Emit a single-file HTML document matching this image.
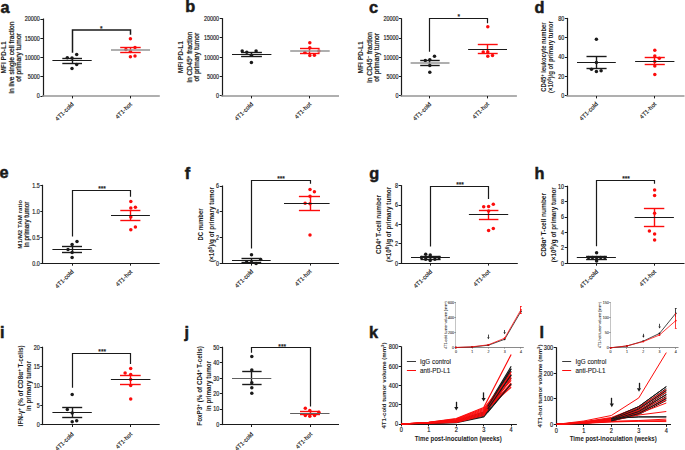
<!DOCTYPE html>
<html><head><meta charset="utf-8"><title>Figure</title>
<style>html,body{margin:0;padding:0;background:#fff;}svg{display:block;}text{font-family:"Liberation Sans", sans-serif;}</style>
</head><body>
<svg width="685" height="450" viewBox="0 0 685 450" font-family='"Liberation Sans", sans-serif'>
<rect width="685" height="450" fill="#fff"/>
<text x="0.50" y="13.20" font-size="16.3" font-weight="bold" text-anchor="start" fill="#1a1a1a" stroke="#1a1a1a" stroke-width="0.500">a</text>
<line x1="43.50" y1="18.50" x2="43.50" y2="96.50" stroke="#1a1a1a" stroke-width="1.2" stroke-linecap="butt"/>
<line x1="40.40" y1="19.50" x2="43.00" y2="19.50" stroke="#1a1a1a" stroke-width="1.0" stroke-linecap="butt"/>
<text x="0.00" y="0.00" font-size="6.6" text-anchor="end" fill="#1a1a1a" stroke="#1a1a1a" stroke-width="0.170" transform="translate(39.80 21.30) scale(0.818 1)">20000</text>
<line x1="40.40" y1="38.50" x2="43.00" y2="38.50" stroke="#1a1a1a" stroke-width="1.0" stroke-linecap="butt"/>
<text x="0.00" y="0.00" font-size="6.6" text-anchor="end" fill="#1a1a1a" stroke="#1a1a1a" stroke-width="0.170" transform="translate(39.80 40.55) scale(0.818 1)">15000</text>
<line x1="40.40" y1="57.50" x2="43.00" y2="57.50" stroke="#1a1a1a" stroke-width="1.0" stroke-linecap="butt"/>
<text x="0.00" y="0.00" font-size="6.6" text-anchor="end" fill="#1a1a1a" stroke="#1a1a1a" stroke-width="0.170" transform="translate(39.80 59.80) scale(0.818 1)">10000</text>
<line x1="40.40" y1="76.50" x2="43.00" y2="76.50" stroke="#1a1a1a" stroke-width="1.0" stroke-linecap="butt"/>
<text x="0.00" y="0.00" font-size="6.6" text-anchor="end" fill="#1a1a1a" stroke="#1a1a1a" stroke-width="0.170" transform="translate(39.80 79.05) scale(0.818 1)">5000</text>
<line x1="40.40" y1="96.50" x2="43.00" y2="96.50" stroke="#1a1a1a" stroke-width="1.0" stroke-linecap="butt"/>
<text x="0.00" y="0.00" font-size="6.6" text-anchor="end" fill="#1a1a1a" stroke="#1a1a1a" stroke-width="0.170" transform="translate(39.80 98.30) scale(0.818 1)">0</text>
<line x1="42.00" y1="96.00" x2="159.80" y2="96.00" stroke="#959595" stroke-width="1.5" stroke-linecap="butt"/>
<line x1="72.50" y1="96.00" x2="72.50" y2="98.40" stroke="#1a1a1a" stroke-width="1.0" stroke-linecap="butt"/>
<line x1="130.50" y1="96.00" x2="130.50" y2="98.40" stroke="#1a1a1a" stroke-width="1.0" stroke-linecap="butt"/>
<text x="74.10" y="104.70" font-size="6.0" text-anchor="end" fill="#1a1a1a" stroke="#1a1a1a" stroke-width="0.140" transform="rotate(-45 74.10 104.70)">4T1-cold</text>
<text x="132.40" y="104.70" font-size="6.0" text-anchor="end" fill="#1a1a1a" stroke="#1a1a1a" stroke-width="0.140" transform="rotate(-45 132.40 104.70)">4T1-hot</text>
<text x="5.70" y="57.50" font-size="6.6" font-weight="bold" text-anchor="middle" fill="#1a1a1a" transform="rotate(-90 5.70 57.50)">MFI PD-L1</text>
<text x="13.50" y="57.50" font-size="6.7" text-anchor="middle" fill="#1a1a1a" stroke="#1a1a1a" stroke-width="0.235" transform="rotate(-90 13.50 57.50)">in live single cell fraction</text>
<text x="20.80" y="57.50" font-size="6.7" text-anchor="middle" fill="#1a1a1a" stroke="#1a1a1a" stroke-width="0.235" transform="rotate(-90 20.80 57.50)">of primary tumor</text>
<path d="M72.50,52.70 L72.50,30.00 L130.50,30.00 L130.50,34.70" stroke="#1a1a1a" stroke-width="1.5" fill="none" stroke-linejoin="miter"/>
<text x="101.40" y="30.70" font-size="6.6" text-anchor="middle" fill="#1a1a1a" stroke="#1a1a1a" stroke-width="0.231">*</text>
<circle cx="67.30" cy="57.70" r="1.75" fill="#1a1a1a"/>
<circle cx="76.70" cy="54.40" r="1.75" fill="#1a1a1a"/>
<circle cx="72.00" cy="58.00" r="1.75" fill="#1a1a1a"/>
<circle cx="76.70" cy="64.40" r="1.75" fill="#1a1a1a"/>
<circle cx="72.00" cy="68.40" r="1.75" fill="#1a1a1a"/>
<line x1="62.30" y1="58.50" x2="82.00" y2="58.50" stroke="#1a1a1a" stroke-width="1.4" stroke-linecap="butt"/>
<line x1="62.30" y1="63.50" x2="82.00" y2="63.50" stroke="#1a1a1a" stroke-width="1.4" stroke-linecap="butt"/>
<line x1="72.50" y1="58.00" x2="72.50" y2="63.30" stroke="#1a1a1a" stroke-width="1.4" stroke-linecap="butt"/>
<line x1="52.40" y1="60.50" x2="91.70" y2="60.50" stroke="#1a1a1a" stroke-width="1.1" stroke-linecap="butt"/>
<circle cx="130.40" cy="38.70" r="1.75" fill="#fc0c0c"/>
<circle cx="125.90" cy="49.40" r="1.75" fill="#fc0c0c"/>
<circle cx="135.00" cy="47.60" r="1.75" fill="#fc0c0c"/>
<circle cx="130.40" cy="51.60" r="1.75" fill="#fc0c0c"/>
<circle cx="130.40" cy="56.80" r="1.75" fill="#fc0c0c"/>
<circle cx="135.00" cy="56.00" r="1.75" fill="#fc0c0c"/>
<line x1="120.20" y1="47.50" x2="140.70" y2="47.50" stroke="#fc0c0c" stroke-width="1.4" stroke-linecap="butt"/>
<line x1="120.20" y1="52.50" x2="140.70" y2="52.50" stroke="#fc0c0c" stroke-width="1.4" stroke-linecap="butt"/>
<line x1="130.50" y1="47.40" x2="130.50" y2="52.90" stroke="#fc0c0c" stroke-width="1.4" stroke-linecap="butt"/>
<line x1="111.00" y1="50.00" x2="150.00" y2="50.00" stroke="#959595" stroke-width="1.5" stroke-linecap="butt"/>
<text x="185.20" y="12.20" font-size="16.3" font-weight="bold" text-anchor="start" fill="#1a1a1a" stroke="#1a1a1a" stroke-width="0.500">b</text>
<line x1="222.50" y1="18.10" x2="222.50" y2="96.40" stroke="#1a1a1a" stroke-width="1.2" stroke-linecap="butt"/>
<line x1="219.70" y1="18.50" x2="222.30" y2="18.50" stroke="#1a1a1a" stroke-width="1.0" stroke-linecap="butt"/>
<text x="0.00" y="0.00" font-size="6.6" text-anchor="end" fill="#1a1a1a" stroke="#1a1a1a" stroke-width="0.170" transform="translate(219.10 20.90) scale(0.818 1)">20000</text>
<line x1="219.70" y1="37.50" x2="222.30" y2="37.50" stroke="#1a1a1a" stroke-width="1.0" stroke-linecap="butt"/>
<text x="0.00" y="0.00" font-size="6.6" text-anchor="end" fill="#1a1a1a" stroke="#1a1a1a" stroke-width="0.170" transform="translate(219.10 40.20) scale(0.818 1)">15000</text>
<line x1="219.70" y1="57.50" x2="222.30" y2="57.50" stroke="#1a1a1a" stroke-width="1.0" stroke-linecap="butt"/>
<text x="0.00" y="0.00" font-size="6.6" text-anchor="end" fill="#1a1a1a" stroke="#1a1a1a" stroke-width="0.170" transform="translate(219.10 59.50) scale(0.818 1)">10000</text>
<line x1="219.70" y1="76.50" x2="222.30" y2="76.50" stroke="#1a1a1a" stroke-width="1.0" stroke-linecap="butt"/>
<text x="0.00" y="0.00" font-size="6.6" text-anchor="end" fill="#1a1a1a" stroke="#1a1a1a" stroke-width="0.170" transform="translate(219.10 78.80) scale(0.818 1)">5000</text>
<line x1="219.70" y1="95.50" x2="222.30" y2="95.50" stroke="#1a1a1a" stroke-width="1.0" stroke-linecap="butt"/>
<text x="0.00" y="0.00" font-size="6.6" text-anchor="end" fill="#1a1a1a" stroke="#1a1a1a" stroke-width="0.170" transform="translate(219.10 98.20) scale(0.818 1)">0</text>
<line x1="221.30" y1="96.00" x2="339.00" y2="96.00" stroke="#959595" stroke-width="1.5" stroke-linecap="butt"/>
<line x1="251.50" y1="96.00" x2="251.50" y2="98.40" stroke="#1a1a1a" stroke-width="1.0" stroke-linecap="butt"/>
<line x1="309.50" y1="96.00" x2="309.50" y2="98.40" stroke="#1a1a1a" stroke-width="1.0" stroke-linecap="butt"/>
<text x="253.50" y="104.60" font-size="6.0" text-anchor="end" fill="#1a1a1a" stroke="#1a1a1a" stroke-width="0.140" transform="rotate(-45 253.50 104.60)">4T1-cold</text>
<text x="311.70" y="104.60" font-size="6.0" text-anchor="end" fill="#1a1a1a" stroke="#1a1a1a" stroke-width="0.140" transform="rotate(-45 311.70 104.60)">4T1-hot</text>
<text x="183.40" y="57.20" font-size="6.6" font-weight="bold" text-anchor="middle" fill="#1a1a1a" transform="rotate(-90 183.40 57.20)">MFI PD-L1</text>
<text x="192.00" y="57.20" font-size="6.7" text-anchor="middle" fill="#1a1a1a" stroke="#1a1a1a" stroke-width="0.235" transform="rotate(-90 192.00 57.20)">in CD45<tspan baseline-shift="super" font-size="70%">+</tspan> fraction</text>
<text x="199.40" y="57.20" font-size="6.7" text-anchor="middle" fill="#1a1a1a" stroke="#1a1a1a" stroke-width="0.235" transform="rotate(-90 199.40 57.20)">of primary tumor</text>
<circle cx="242.20" cy="50.90" r="1.75" fill="#1a1a1a"/>
<circle cx="246.80" cy="52.20" r="1.75" fill="#1a1a1a"/>
<circle cx="251.40" cy="55.30" r="1.75" fill="#1a1a1a"/>
<circle cx="256.10" cy="50.90" r="1.75" fill="#1a1a1a"/>
<circle cx="251.40" cy="62.50" r="1.75" fill="#1a1a1a"/>
<line x1="241.10" y1="52.50" x2="261.90" y2="52.50" stroke="#1a1a1a" stroke-width="1.4" stroke-linecap="butt"/>
<line x1="241.10" y1="56.50" x2="261.90" y2="56.50" stroke="#1a1a1a" stroke-width="1.4" stroke-linecap="butt"/>
<line x1="251.50" y1="52.00" x2="251.50" y2="56.80" stroke="#1a1a1a" stroke-width="1.4" stroke-linecap="butt"/>
<line x1="232.00" y1="54.50" x2="271.40" y2="54.50" stroke="#1a1a1a" stroke-width="1.1" stroke-linecap="butt"/>
<circle cx="309.80" cy="42.70" r="1.75" fill="#fc0c0c"/>
<circle cx="309.80" cy="47.80" r="1.75" fill="#fc0c0c"/>
<circle cx="304.90" cy="52.50" r="1.75" fill="#fc0c0c"/>
<circle cx="318.90" cy="51.10" r="1.75" fill="#fc0c0c"/>
<circle cx="309.80" cy="55.40" r="1.75" fill="#fc0c0c"/>
<circle cx="314.40" cy="55.30" r="1.75" fill="#fc0c0c"/>
<line x1="300.00" y1="48.50" x2="319.60" y2="48.50" stroke="#fc0c0c" stroke-width="1.4" stroke-linecap="butt"/>
<line x1="300.00" y1="53.50" x2="319.60" y2="53.50" stroke="#fc0c0c" stroke-width="1.4" stroke-linecap="butt"/>
<line x1="309.50" y1="48.70" x2="309.50" y2="53.10" stroke="#fc0c0c" stroke-width="1.4" stroke-linecap="butt"/>
<line x1="290.20" y1="51.00" x2="329.70" y2="51.00" stroke="#959595" stroke-width="1.5" stroke-linecap="butt"/>
<text x="369.00" y="12.70" font-size="16.3" font-weight="bold" text-anchor="start" fill="#1a1a1a" stroke="#1a1a1a" stroke-width="0.500">c</text>
<line x1="401.50" y1="18.40" x2="401.50" y2="96.40" stroke="#1a1a1a" stroke-width="1.2" stroke-linecap="butt"/>
<line x1="399.00" y1="18.50" x2="401.60" y2="18.50" stroke="#1a1a1a" stroke-width="1.0" stroke-linecap="butt"/>
<text x="0.00" y="0.00" font-size="6.6" text-anchor="end" fill="#1a1a1a" stroke="#1a1a1a" stroke-width="0.170" transform="translate(398.40 21.20) scale(0.818 1)">20000</text>
<line x1="399.00" y1="38.50" x2="401.60" y2="38.50" stroke="#1a1a1a" stroke-width="1.0" stroke-linecap="butt"/>
<text x="0.00" y="0.00" font-size="6.6" text-anchor="end" fill="#1a1a1a" stroke="#1a1a1a" stroke-width="0.170" transform="translate(398.40 40.40) scale(0.818 1)">15000</text>
<line x1="399.00" y1="57.50" x2="401.60" y2="57.50" stroke="#1a1a1a" stroke-width="1.0" stroke-linecap="butt"/>
<text x="0.00" y="0.00" font-size="6.6" text-anchor="end" fill="#1a1a1a" stroke="#1a1a1a" stroke-width="0.170" transform="translate(398.40 59.70) scale(0.818 1)">10000</text>
<line x1="399.00" y1="76.50" x2="401.60" y2="76.50" stroke="#1a1a1a" stroke-width="1.0" stroke-linecap="butt"/>
<text x="0.00" y="0.00" font-size="6.6" text-anchor="end" fill="#1a1a1a" stroke="#1a1a1a" stroke-width="0.170" transform="translate(398.40 78.90) scale(0.818 1)">5000</text>
<line x1="399.00" y1="95.50" x2="401.60" y2="95.50" stroke="#1a1a1a" stroke-width="1.0" stroke-linecap="butt"/>
<text x="0.00" y="0.00" font-size="6.6" text-anchor="end" fill="#1a1a1a" stroke="#1a1a1a" stroke-width="0.170" transform="translate(398.40 98.20) scale(0.818 1)">0</text>
<line x1="400.60" y1="96.00" x2="516.90" y2="96.00" stroke="#959595" stroke-width="1.5" stroke-linecap="butt"/>
<line x1="429.50" y1="96.00" x2="429.50" y2="98.40" stroke="#1a1a1a" stroke-width="1.0" stroke-linecap="butt"/>
<line x1="487.50" y1="96.00" x2="487.50" y2="98.40" stroke="#1a1a1a" stroke-width="1.0" stroke-linecap="butt"/>
<text x="431.70" y="104.60" font-size="6.0" text-anchor="end" fill="#1a1a1a" stroke="#1a1a1a" stroke-width="0.140" transform="rotate(-45 431.70 104.60)">4T1-cold</text>
<text x="489.50" y="104.60" font-size="6.0" text-anchor="end" fill="#1a1a1a" stroke="#1a1a1a" stroke-width="0.140" transform="rotate(-45 489.50 104.60)">4T1-hot</text>
<text x="363.20" y="57.40" font-size="6.6" font-weight="bold" text-anchor="middle" fill="#1a1a1a" transform="rotate(-90 363.20 57.40)">MFI PD-L1</text>
<text x="371.60" y="57.40" font-size="6.7" text-anchor="middle" fill="#1a1a1a" stroke="#1a1a1a" stroke-width="0.235" transform="rotate(-90 371.60 57.40)">in CD45<tspan baseline-shift="super" font-size="70%">−</tspan> fraction</text>
<text x="379.00" y="57.40" font-size="6.7" text-anchor="middle" fill="#1a1a1a" stroke="#1a1a1a" stroke-width="0.235" transform="rotate(-90 379.00 57.40)">of primary tumor</text>
<path d="M429.50,51.70 L429.50,18.50 L487.50,18.50 L487.50,23.20" stroke="#1a1a1a" stroke-width="1.2" fill="none" stroke-linejoin="miter"/>
<text x="458.80" y="19.30" font-size="6.6" text-anchor="middle" fill="#1a1a1a" stroke="#1a1a1a" stroke-width="0.231">*</text>
<circle cx="434.50" cy="56.30" r="1.75" fill="#1a1a1a"/>
<circle cx="425.30" cy="60.50" r="1.75" fill="#1a1a1a"/>
<circle cx="429.80" cy="59.80" r="1.75" fill="#1a1a1a"/>
<circle cx="429.80" cy="65.50" r="1.75" fill="#1a1a1a"/>
<circle cx="429.80" cy="72.20" r="1.75" fill="#1a1a1a"/>
<line x1="420.20" y1="60.50" x2="439.70" y2="60.50" stroke="#1a1a1a" stroke-width="1.4" stroke-linecap="butt"/>
<line x1="420.20" y1="65.50" x2="439.70" y2="65.50" stroke="#1a1a1a" stroke-width="1.4" stroke-linecap="butt"/>
<line x1="429.50" y1="60.10" x2="429.50" y2="65.50" stroke="#1a1a1a" stroke-width="1.4" stroke-linecap="butt"/>
<line x1="410.60" y1="62.90" x2="449.50" y2="62.90" stroke="#959595" stroke-width="1.5" stroke-linecap="butt"/>
<circle cx="487.80" cy="26.80" r="1.75" fill="#fc0c0c"/>
<circle cx="483.20" cy="52.00" r="1.75" fill="#fc0c0c"/>
<circle cx="487.80" cy="52.00" r="1.75" fill="#fc0c0c"/>
<circle cx="487.80" cy="56.30" r="1.75" fill="#fc0c0c"/>
<circle cx="492.50" cy="55.60" r="1.75" fill="#fc0c0c"/>
<line x1="477.80" y1="44.50" x2="497.70" y2="44.50" stroke="#fc0c0c" stroke-width="1.4" stroke-linecap="butt"/>
<line x1="477.80" y1="53.50" x2="497.70" y2="53.50" stroke="#fc0c0c" stroke-width="1.4" stroke-linecap="butt"/>
<line x1="487.50" y1="44.50" x2="487.50" y2="53.50" stroke="#fc0c0c" stroke-width="1.4" stroke-linecap="butt"/>
<line x1="468.10" y1="49.50" x2="507.00" y2="49.50" stroke="#1a1a1a" stroke-width="1.1" stroke-linecap="butt"/>
<text x="534.40" y="12.70" font-size="16.3" font-weight="bold" text-anchor="start" fill="#1a1a1a" stroke="#1a1a1a" stroke-width="0.500">d</text>
<line x1="567.50" y1="17.90" x2="567.50" y2="96.30" stroke="#1a1a1a" stroke-width="1.2" stroke-linecap="butt"/>
<line x1="564.80" y1="18.50" x2="567.40" y2="18.50" stroke="#1a1a1a" stroke-width="1.0" stroke-linecap="butt"/>
<text x="0.00" y="0.00" font-size="6.6" text-anchor="end" fill="#1a1a1a" stroke="#1a1a1a" stroke-width="0.170" transform="translate(564.20 20.70) scale(0.818 1)">80</text>
<line x1="564.80" y1="37.50" x2="567.40" y2="37.50" stroke="#1a1a1a" stroke-width="1.0" stroke-linecap="butt"/>
<text x="0.00" y="0.00" font-size="6.6" text-anchor="end" fill="#1a1a1a" stroke="#1a1a1a" stroke-width="0.170" transform="translate(564.20 40.05) scale(0.818 1)">60</text>
<line x1="564.80" y1="57.50" x2="567.40" y2="57.50" stroke="#1a1a1a" stroke-width="1.0" stroke-linecap="butt"/>
<text x="0.00" y="0.00" font-size="6.6" text-anchor="end" fill="#1a1a1a" stroke="#1a1a1a" stroke-width="0.170" transform="translate(564.20 59.40) scale(0.818 1)">40</text>
<line x1="564.80" y1="76.50" x2="567.40" y2="76.50" stroke="#1a1a1a" stroke-width="1.0" stroke-linecap="butt"/>
<text x="0.00" y="0.00" font-size="6.6" text-anchor="end" fill="#1a1a1a" stroke="#1a1a1a" stroke-width="0.170" transform="translate(564.20 78.75) scale(0.818 1)">20</text>
<line x1="564.80" y1="95.50" x2="567.40" y2="95.50" stroke="#1a1a1a" stroke-width="1.0" stroke-linecap="butt"/>
<text x="0.00" y="0.00" font-size="6.6" text-anchor="end" fill="#1a1a1a" stroke="#1a1a1a" stroke-width="0.170" transform="translate(564.20 98.10) scale(0.818 1)">0</text>
<line x1="566.40" y1="96.00" x2="684.50" y2="96.00" stroke="#959595" stroke-width="1.5" stroke-linecap="butt"/>
<line x1="596.50" y1="96.00" x2="596.50" y2="98.40" stroke="#1a1a1a" stroke-width="1.0" stroke-linecap="butt"/>
<line x1="654.50" y1="96.00" x2="654.50" y2="98.40" stroke="#1a1a1a" stroke-width="1.0" stroke-linecap="butt"/>
<text x="598.30" y="104.50" font-size="6.0" text-anchor="end" fill="#1a1a1a" stroke="#1a1a1a" stroke-width="0.140" transform="rotate(-45 598.30 104.50)">4T1-cold</text>
<text x="656.70" y="104.50" font-size="6.0" text-anchor="end" fill="#1a1a1a" stroke="#1a1a1a" stroke-width="0.140" transform="rotate(-45 656.70 104.50)">4T1-hot</text>
<text x="545.60" y="57.10" font-size="6.3" font-weight="bold" text-anchor="middle" fill="#1a1a1a" transform="rotate(-90 545.60 57.10)" textLength="69.5" lengthAdjust="spacingAndGlyphs">CD45<tspan baseline-shift="super" font-size="70%">+</tspan> leukocyte number</text>
<text x="553.20" y="57.10" font-size="6.3" font-weight="bold" text-anchor="middle" fill="#1a1a1a" transform="rotate(-90 553.20 57.10)" textLength="72" lengthAdjust="spacingAndGlyphs">(×10<tspan baseline-shift="super" font-size="70%">6</tspan>)/g of primary tumor</text>
<circle cx="596.40" cy="39.30" r="1.75" fill="#1a1a1a"/>
<circle cx="596.40" cy="62.40" r="1.75" fill="#1a1a1a"/>
<circle cx="591.50" cy="69.20" r="1.75" fill="#1a1a1a"/>
<circle cx="596.40" cy="71.50" r="1.75" fill="#1a1a1a"/>
<circle cx="601.10" cy="70.70" r="1.75" fill="#1a1a1a"/>
<line x1="586.50" y1="56.50" x2="606.60" y2="56.50" stroke="#1a1a1a" stroke-width="1.4" stroke-linecap="butt"/>
<line x1="586.50" y1="68.50" x2="606.60" y2="68.50" stroke="#1a1a1a" stroke-width="1.4" stroke-linecap="butt"/>
<line x1="596.50" y1="56.40" x2="596.50" y2="68.60" stroke="#1a1a1a" stroke-width="1.4" stroke-linecap="butt"/>
<line x1="577.00" y1="62.50" x2="615.80" y2="62.50" stroke="#1a1a1a" stroke-width="1.1" stroke-linecap="butt"/>
<circle cx="654.80" cy="50.20" r="1.75" fill="#fc0c0c"/>
<circle cx="654.80" cy="56.10" r="1.75" fill="#fc0c0c"/>
<circle cx="659.30" cy="58.20" r="1.75" fill="#fc0c0c"/>
<circle cx="654.80" cy="61.60" r="1.75" fill="#fc0c0c"/>
<circle cx="654.80" cy="66.10" r="1.75" fill="#fc0c0c"/>
<circle cx="654.80" cy="74.50" r="1.75" fill="#fc0c0c"/>
<line x1="644.70" y1="57.50" x2="664.80" y2="57.50" stroke="#fc0c0c" stroke-width="1.4" stroke-linecap="butt"/>
<line x1="644.70" y1="64.50" x2="664.80" y2="64.50" stroke="#fc0c0c" stroke-width="1.4" stroke-linecap="butt"/>
<line x1="654.50" y1="57.40" x2="654.50" y2="64.40" stroke="#fc0c0c" stroke-width="1.4" stroke-linecap="butt"/>
<line x1="635.10" y1="61.50" x2="674.40" y2="61.50" stroke="#1a1a1a" stroke-width="1.1" stroke-linecap="butt"/>
<text x="-0.50" y="178.40" font-size="16.3" font-weight="bold" text-anchor="start" fill="#1a1a1a" stroke="#1a1a1a" stroke-width="0.500">e</text>
<line x1="42.50" y1="184.80" x2="42.50" y2="263.80" stroke="#1a1a1a" stroke-width="1.2" stroke-linecap="butt"/>
<line x1="40.30" y1="185.50" x2="42.90" y2="185.50" stroke="#1a1a1a" stroke-width="1.0" stroke-linecap="butt"/>
<text x="0.00" y="0.00" font-size="6.6" text-anchor="end" fill="#1a1a1a" stroke="#1a1a1a" stroke-width="0.170" transform="translate(39.70 187.60) scale(0.818 1)">1.5</text>
<line x1="40.30" y1="211.50" x2="42.90" y2="211.50" stroke="#1a1a1a" stroke-width="1.0" stroke-linecap="butt"/>
<text x="0.00" y="0.00" font-size="6.6" text-anchor="end" fill="#1a1a1a" stroke="#1a1a1a" stroke-width="0.170" transform="translate(39.70 213.60) scale(0.818 1)">1.0</text>
<line x1="40.30" y1="237.50" x2="42.90" y2="237.50" stroke="#1a1a1a" stroke-width="1.0" stroke-linecap="butt"/>
<text x="0.00" y="0.00" font-size="6.6" text-anchor="end" fill="#1a1a1a" stroke="#1a1a1a" stroke-width="0.170" transform="translate(39.70 239.60) scale(0.818 1)">0.5</text>
<line x1="40.30" y1="263.50" x2="42.90" y2="263.50" stroke="#1a1a1a" stroke-width="1.0" stroke-linecap="butt"/>
<text x="0.00" y="0.00" font-size="6.6" text-anchor="end" fill="#1a1a1a" stroke="#1a1a1a" stroke-width="0.170" transform="translate(39.70 265.60) scale(0.818 1)">0.0</text>
<line x1="41.90" y1="263.50" x2="159.70" y2="263.50" stroke="#1a1a1a" stroke-width="1.2" stroke-linecap="butt"/>
<line x1="72.50" y1="263.30" x2="72.50" y2="265.70" stroke="#1a1a1a" stroke-width="1.0" stroke-linecap="butt"/>
<line x1="130.50" y1="263.30" x2="130.50" y2="265.70" stroke="#1a1a1a" stroke-width="1.0" stroke-linecap="butt"/>
<text x="74.00" y="272.20" font-size="6.0" text-anchor="end" fill="#1a1a1a" stroke="#1a1a1a" stroke-width="0.140" transform="rotate(-45 74.00 272.20)">4T1-cold</text>
<text x="132.70" y="272.20" font-size="6.0" text-anchor="end" fill="#1a1a1a" stroke="#1a1a1a" stroke-width="0.140" transform="rotate(-45 132.70 272.20)">4T1-hot</text>
<text x="21.60" y="224.30" font-size="6.2" font-weight="bold" text-anchor="middle" fill="#1a1a1a" transform="rotate(-90 21.60 224.30)">M1/M2 TAM ratio</text>
<text x="28.60" y="224.30" font-size="6.3" text-anchor="middle" fill="#1a1a1a" stroke="#1a1a1a" stroke-width="0.221" transform="rotate(-90 28.60 224.30)">in primary tumor</text>
<path d="M72.50,236.40 L72.50,190.50 L130.50,190.50 L130.50,196.80" stroke="#1a1a1a" stroke-width="1.2" fill="none" stroke-linejoin="miter"/>
<text x="102.00" y="190.90" font-size="6.6" text-anchor="middle" fill="#1a1a1a" stroke="#1a1a1a" stroke-width="0.231">***</text>
<circle cx="77.00" cy="241.40" r="1.75" fill="#1a1a1a"/>
<circle cx="72.10" cy="244.40" r="1.75" fill="#1a1a1a"/>
<circle cx="68.00" cy="249.60" r="1.75" fill="#1a1a1a"/>
<circle cx="72.10" cy="252.40" r="1.75" fill="#1a1a1a"/>
<circle cx="72.10" cy="257.60" r="1.75" fill="#1a1a1a"/>
<line x1="62.00" y1="246.50" x2="82.00" y2="246.50" stroke="#1a1a1a" stroke-width="1.4" stroke-linecap="butt"/>
<line x1="62.00" y1="252.50" x2="82.00" y2="252.50" stroke="#1a1a1a" stroke-width="1.4" stroke-linecap="butt"/>
<line x1="72.50" y1="246.40" x2="72.50" y2="252.40" stroke="#1a1a1a" stroke-width="1.4" stroke-linecap="butt"/>
<line x1="52.40" y1="249.50" x2="91.70" y2="249.50" stroke="#1a1a1a" stroke-width="1.1" stroke-linecap="butt"/>
<circle cx="130.80" cy="201.40" r="1.75" fill="#fc0c0c"/>
<circle cx="130.80" cy="208.00" r="1.75" fill="#fc0c0c"/>
<circle cx="135.40" cy="207.30" r="1.75" fill="#fc0c0c"/>
<circle cx="130.80" cy="217.00" r="1.75" fill="#fc0c0c"/>
<circle cx="130.80" cy="229.70" r="1.75" fill="#fc0c0c"/>
<circle cx="135.40" cy="227.10" r="1.75" fill="#fc0c0c"/>
<line x1="120.30" y1="210.50" x2="140.40" y2="210.50" stroke="#fc0c0c" stroke-width="1.4" stroke-linecap="butt"/>
<line x1="120.30" y1="220.50" x2="140.40" y2="220.50" stroke="#fc0c0c" stroke-width="1.4" stroke-linecap="butt"/>
<line x1="130.50" y1="210.50" x2="130.50" y2="220.10" stroke="#fc0c0c" stroke-width="1.4" stroke-linecap="butt"/>
<line x1="111.00" y1="215.50" x2="149.90" y2="215.50" stroke="#1a1a1a" stroke-width="1.1" stroke-linecap="butt"/>
<text x="184.80" y="178.70" font-size="16.3" font-weight="bold" text-anchor="start" fill="#1a1a1a" stroke="#1a1a1a" stroke-width="0.500">f</text>
<line x1="222.50" y1="185.50" x2="222.50" y2="263.70" stroke="#1a1a1a" stroke-width="1.2" stroke-linecap="butt"/>
<line x1="219.70" y1="186.50" x2="222.30" y2="186.50" stroke="#1a1a1a" stroke-width="1.0" stroke-linecap="butt"/>
<text x="0.00" y="0.00" font-size="6.6" text-anchor="end" fill="#1a1a1a" stroke="#1a1a1a" stroke-width="0.170" transform="translate(219.10 188.30) scale(0.818 1)">6</text>
<line x1="219.70" y1="211.50" x2="222.30" y2="211.50" stroke="#1a1a1a" stroke-width="1.0" stroke-linecap="butt"/>
<text x="0.00" y="0.00" font-size="6.6" text-anchor="end" fill="#1a1a1a" stroke="#1a1a1a" stroke-width="0.170" transform="translate(219.10 214.00) scale(0.818 1)">4</text>
<line x1="219.70" y1="237.50" x2="222.30" y2="237.50" stroke="#1a1a1a" stroke-width="1.0" stroke-linecap="butt"/>
<text x="0.00" y="0.00" font-size="6.6" text-anchor="end" fill="#1a1a1a" stroke="#1a1a1a" stroke-width="0.170" transform="translate(219.10 239.80) scale(0.818 1)">2</text>
<line x1="219.70" y1="263.50" x2="222.30" y2="263.50" stroke="#1a1a1a" stroke-width="1.0" stroke-linecap="butt"/>
<text x="0.00" y="0.00" font-size="6.6" text-anchor="end" fill="#1a1a1a" stroke="#1a1a1a" stroke-width="0.170" transform="translate(219.10 265.50) scale(0.818 1)">0</text>
<line x1="221.30" y1="263.50" x2="339.00" y2="263.50" stroke="#1a1a1a" stroke-width="1.2" stroke-linecap="butt"/>
<line x1="251.50" y1="263.20" x2="251.50" y2="265.60" stroke="#1a1a1a" stroke-width="1.0" stroke-linecap="butt"/>
<line x1="310.50" y1="263.20" x2="310.50" y2="265.60" stroke="#1a1a1a" stroke-width="1.0" stroke-linecap="butt"/>
<text x="253.70" y="271.80" font-size="6.0" text-anchor="end" fill="#1a1a1a" stroke="#1a1a1a" stroke-width="0.140" transform="rotate(-45 253.70 271.80)">4T1-cold</text>
<text x="311.90" y="271.80" font-size="6.0" text-anchor="end" fill="#1a1a1a" stroke="#1a1a1a" stroke-width="0.140" transform="rotate(-45 311.90 271.80)">4T1-hot</text>
<text x="203.40" y="224.50" font-size="6.3" font-weight="bold" text-anchor="middle" fill="#1a1a1a" transform="rotate(-90 203.40 224.50)" textLength="32" lengthAdjust="spacingAndGlyphs">DC number</text>
<text x="213.60" y="224.50" font-size="6.3" font-weight="bold" text-anchor="middle" fill="#1a1a1a" transform="rotate(-90 213.60 224.50)">(×10<tspan baseline-shift="super" font-size="70%">5</tspan>)/g of primary tumor</text>
<path d="M251.50,248.60 L251.50,180.50 L310.50,180.50 L310.50,183.80" stroke="#1a1a1a" stroke-width="1.2" fill="none" stroke-linejoin="miter"/>
<text x="281.10" y="180.70" font-size="6.6" text-anchor="middle" fill="#1a1a1a" stroke="#1a1a1a" stroke-width="0.231">***</text>
<circle cx="251.50" cy="254.70" r="1.75" fill="#1a1a1a"/>
<circle cx="260.70" cy="259.60" r="1.75" fill="#1a1a1a"/>
<circle cx="246.60" cy="262.20" r="1.75" fill="#1a1a1a"/>
<circle cx="251.50" cy="262.50" r="1.75" fill="#1a1a1a"/>
<circle cx="256.10" cy="263.60" r="1.75" fill="#1a1a1a"/>
<line x1="241.50" y1="258.50" x2="261.20" y2="258.50" stroke="#1a1a1a" stroke-width="1.4" stroke-linecap="butt"/>
<line x1="241.50" y1="262.50" x2="261.20" y2="262.50" stroke="#1a1a1a" stroke-width="1.4" stroke-linecap="butt"/>
<line x1="251.50" y1="258.90" x2="251.50" y2="262.30" stroke="#1a1a1a" stroke-width="1.4" stroke-linecap="butt"/>
<line x1="232.00" y1="260.50" x2="270.70" y2="260.50" stroke="#1a1a1a" stroke-width="1.1" stroke-linecap="butt"/>
<circle cx="310.00" cy="189.60" r="1.75" fill="#fc0c0c"/>
<circle cx="314.40" cy="191.80" r="1.75" fill="#fc0c0c"/>
<circle cx="310.00" cy="196.20" r="1.75" fill="#fc0c0c"/>
<circle cx="305.10" cy="203.30" r="1.75" fill="#fc0c0c"/>
<circle cx="310.00" cy="203.80" r="1.75" fill="#fc0c0c"/>
<circle cx="310.00" cy="234.90" r="1.75" fill="#fc0c0c"/>
<line x1="298.90" y1="196.50" x2="320.00" y2="196.50" stroke="#fc0c0c" stroke-width="1.4" stroke-linecap="butt"/>
<line x1="298.90" y1="210.50" x2="320.00" y2="210.50" stroke="#fc0c0c" stroke-width="1.4" stroke-linecap="butt"/>
<line x1="310.50" y1="196.70" x2="310.50" y2="210.00" stroke="#fc0c0c" stroke-width="1.4" stroke-linecap="butt"/>
<line x1="284.00" y1="203.50" x2="329.60" y2="203.50" stroke="#1a1a1a" stroke-width="1.1" stroke-linecap="butt"/>
<text x="369.30" y="178.70" font-size="16.3" font-weight="bold" text-anchor="start" fill="#1a1a1a" stroke="#1a1a1a" stroke-width="0.500">g</text>
<line x1="401.50" y1="185.10" x2="401.50" y2="263.70" stroke="#1a1a1a" stroke-width="1.2" stroke-linecap="butt"/>
<line x1="398.50" y1="185.50" x2="401.10" y2="185.50" stroke="#1a1a1a" stroke-width="1.0" stroke-linecap="butt"/>
<text x="0.00" y="0.00" font-size="6.6" text-anchor="end" fill="#1a1a1a" stroke="#1a1a1a" stroke-width="0.170" transform="translate(397.90 187.90) scale(0.818 1)">8</text>
<line x1="398.50" y1="205.50" x2="401.10" y2="205.50" stroke="#1a1a1a" stroke-width="1.0" stroke-linecap="butt"/>
<text x="0.00" y="0.00" font-size="6.6" text-anchor="end" fill="#1a1a1a" stroke="#1a1a1a" stroke-width="0.170" transform="translate(397.90 207.30) scale(0.818 1)">6</text>
<line x1="398.50" y1="224.50" x2="401.10" y2="224.50" stroke="#1a1a1a" stroke-width="1.0" stroke-linecap="butt"/>
<text x="0.00" y="0.00" font-size="6.6" text-anchor="end" fill="#1a1a1a" stroke="#1a1a1a" stroke-width="0.170" transform="translate(397.90 226.70) scale(0.818 1)">4</text>
<line x1="398.50" y1="243.50" x2="401.10" y2="243.50" stroke="#1a1a1a" stroke-width="1.0" stroke-linecap="butt"/>
<text x="0.00" y="0.00" font-size="6.6" text-anchor="end" fill="#1a1a1a" stroke="#1a1a1a" stroke-width="0.170" transform="translate(397.90 246.10) scale(0.818 1)">2</text>
<line x1="398.50" y1="263.50" x2="401.10" y2="263.50" stroke="#1a1a1a" stroke-width="1.0" stroke-linecap="butt"/>
<text x="0.00" y="0.00" font-size="6.6" text-anchor="end" fill="#1a1a1a" stroke="#1a1a1a" stroke-width="0.170" transform="translate(397.90 265.50) scale(0.818 1)">0</text>
<line x1="400.10" y1="263.50" x2="517.80" y2="263.50" stroke="#1a1a1a" stroke-width="1.2" stroke-linecap="butt"/>
<line x1="430.50" y1="263.20" x2="430.50" y2="265.60" stroke="#1a1a1a" stroke-width="1.0" stroke-linecap="butt"/>
<line x1="488.50" y1="263.20" x2="488.50" y2="265.60" stroke="#1a1a1a" stroke-width="1.0" stroke-linecap="butt"/>
<text x="432.50" y="272.10" font-size="6.0" text-anchor="end" fill="#1a1a1a" stroke="#1a1a1a" stroke-width="0.140" transform="rotate(-45 432.50 272.10)">4T1-cold</text>
<text x="490.50" y="272.10" font-size="6.0" text-anchor="end" fill="#1a1a1a" stroke="#1a1a1a" stroke-width="0.140" transform="rotate(-45 490.50 272.10)">4T1-hot</text>
<text x="380.80" y="224.40" font-size="6.3" font-weight="bold" text-anchor="middle" fill="#1a1a1a" transform="rotate(-90 380.80 224.40)" textLength="59" lengthAdjust="spacingAndGlyphs">CD4<tspan baseline-shift="super" font-size="70%">+</tspan> T-cell number</text>
<text x="390.60" y="224.40" font-size="6.3" font-weight="bold" text-anchor="middle" fill="#1a1a1a" transform="rotate(-90 390.60 224.40)">(×10<tspan baseline-shift="super" font-size="70%">6</tspan>)/g of primary tumor</text>
<path d="M430.50,246.60 L430.50,186.50 L488.50,186.50 L488.50,198.90" stroke="#1a1a1a" stroke-width="1.2" fill="none" stroke-linejoin="miter"/>
<text x="460.00" y="186.70" font-size="6.6" text-anchor="middle" fill="#1a1a1a" stroke="#1a1a1a" stroke-width="0.231">***</text>
<circle cx="425.70" cy="254.20" r="1.75" fill="#1a1a1a"/>
<circle cx="430.20" cy="255.00" r="1.75" fill="#1a1a1a"/>
<circle cx="425.70" cy="259.30" r="1.75" fill="#1a1a1a"/>
<circle cx="430.20" cy="260.40" r="1.75" fill="#1a1a1a"/>
<circle cx="434.90" cy="259.30" r="1.75" fill="#1a1a1a"/>
<circle cx="430.20" cy="257.00" r="1.75" fill="#1a1a1a"/>
<circle cx="421.50" cy="257.50" r="1.75" fill="#1a1a1a"/>
<circle cx="439.00" cy="257.50" r="1.75" fill="#1a1a1a"/>
<line x1="420.50" y1="256.50" x2="440.60" y2="256.50" stroke="#1a1a1a" stroke-width="1.4" stroke-linecap="butt"/>
<line x1="420.50" y1="259.50" x2="440.60" y2="259.50" stroke="#1a1a1a" stroke-width="1.4" stroke-linecap="butt"/>
<line x1="430.50" y1="256.00" x2="430.50" y2="259.20" stroke="#1a1a1a" stroke-width="1.4" stroke-linecap="butt"/>
<line x1="411.00" y1="257.50" x2="449.90" y2="257.50" stroke="#1a1a1a" stroke-width="1.1" stroke-linecap="butt"/>
<circle cx="483.70" cy="206.80" r="1.75" fill="#fc0c0c"/>
<circle cx="488.60" cy="206.40" r="1.75" fill="#fc0c0c"/>
<circle cx="493.30" cy="204.20" r="1.75" fill="#fc0c0c"/>
<circle cx="488.60" cy="211.00" r="1.75" fill="#fc0c0c"/>
<circle cx="488.60" cy="230.60" r="1.75" fill="#fc0c0c"/>
<circle cx="493.30" cy="228.60" r="1.75" fill="#fc0c0c"/>
<line x1="478.90" y1="210.50" x2="498.40" y2="210.50" stroke="#fc0c0c" stroke-width="1.4" stroke-linecap="butt"/>
<line x1="478.90" y1="219.50" x2="498.40" y2="219.50" stroke="#fc0c0c" stroke-width="1.4" stroke-linecap="butt"/>
<line x1="488.50" y1="210.00" x2="488.50" y2="219.30" stroke="#fc0c0c" stroke-width="1.4" stroke-linecap="butt"/>
<line x1="468.90" y1="214.50" x2="508.20" y2="214.50" stroke="#1a1a1a" stroke-width="1.1" stroke-linecap="butt"/>
<text x="534.60" y="178.70" font-size="16.3" font-weight="bold" text-anchor="start" fill="#1a1a1a" stroke="#1a1a1a" stroke-width="0.500">h</text>
<line x1="567.50" y1="185.70" x2="567.50" y2="263.80" stroke="#1a1a1a" stroke-width="1.2" stroke-linecap="butt"/>
<line x1="564.70" y1="186.50" x2="567.30" y2="186.50" stroke="#1a1a1a" stroke-width="1.0" stroke-linecap="butt"/>
<text x="0.00" y="0.00" font-size="6.6" text-anchor="end" fill="#1a1a1a" stroke="#1a1a1a" stroke-width="0.170" transform="translate(564.10 188.50) scale(0.818 1)">10</text>
<line x1="564.70" y1="201.50" x2="567.30" y2="201.50" stroke="#1a1a1a" stroke-width="1.0" stroke-linecap="butt"/>
<text x="0.00" y="0.00" font-size="6.6" text-anchor="end" fill="#1a1a1a" stroke="#1a1a1a" stroke-width="0.170" transform="translate(564.10 203.90) scale(0.818 1)">8</text>
<line x1="564.70" y1="217.50" x2="567.30" y2="217.50" stroke="#1a1a1a" stroke-width="1.0" stroke-linecap="butt"/>
<text x="0.00" y="0.00" font-size="6.6" text-anchor="end" fill="#1a1a1a" stroke="#1a1a1a" stroke-width="0.170" transform="translate(564.10 219.30) scale(0.818 1)">6</text>
<line x1="564.70" y1="232.50" x2="567.30" y2="232.50" stroke="#1a1a1a" stroke-width="1.0" stroke-linecap="butt"/>
<text x="0.00" y="0.00" font-size="6.6" text-anchor="end" fill="#1a1a1a" stroke="#1a1a1a" stroke-width="0.170" transform="translate(564.10 234.70) scale(0.818 1)">4</text>
<line x1="564.70" y1="247.50" x2="567.30" y2="247.50" stroke="#1a1a1a" stroke-width="1.0" stroke-linecap="butt"/>
<text x="0.00" y="0.00" font-size="6.6" text-anchor="end" fill="#1a1a1a" stroke="#1a1a1a" stroke-width="0.170" transform="translate(564.10 250.20) scale(0.818 1)">2</text>
<line x1="564.70" y1="263.50" x2="567.30" y2="263.50" stroke="#1a1a1a" stroke-width="1.0" stroke-linecap="butt"/>
<text x="0.00" y="0.00" font-size="6.6" text-anchor="end" fill="#1a1a1a" stroke="#1a1a1a" stroke-width="0.170" transform="translate(564.10 265.60) scale(0.818 1)">0</text>
<line x1="566.30" y1="263.50" x2="684.50" y2="263.50" stroke="#1a1a1a" stroke-width="1.2" stroke-linecap="butt"/>
<line x1="596.50" y1="263.30" x2="596.50" y2="265.70" stroke="#1a1a1a" stroke-width="1.0" stroke-linecap="butt"/>
<line x1="654.50" y1="263.30" x2="654.50" y2="265.70" stroke="#1a1a1a" stroke-width="1.0" stroke-linecap="butt"/>
<text x="598.50" y="272.20" font-size="6.0" text-anchor="end" fill="#1a1a1a" stroke="#1a1a1a" stroke-width="0.140" transform="rotate(-45 598.50 272.20)">4T1-cold</text>
<text x="656.50" y="272.20" font-size="6.0" text-anchor="end" fill="#1a1a1a" stroke="#1a1a1a" stroke-width="0.140" transform="rotate(-45 656.50 272.20)">4T1-hot</text>
<text x="546.20" y="224.70" font-size="6.3" font-weight="bold" text-anchor="middle" fill="#1a1a1a" transform="rotate(-90 546.20 224.70)" textLength="63.5" lengthAdjust="spacingAndGlyphs">CD8α<tspan baseline-shift="super" font-size="70%">+</tspan> T-cell number</text>
<text x="555.80" y="224.70" font-size="6.3" font-weight="bold" text-anchor="middle" fill="#1a1a1a" transform="rotate(-90 555.80 224.70)">(×10<tspan baseline-shift="super" font-size="70%">6</tspan>)/g of primary tumor</text>
<path d="M596.50,246.20 L596.50,180.50 L654.50,180.50 L654.50,183.80" stroke="#1a1a1a" stroke-width="1.2" fill="none" stroke-linejoin="miter"/>
<text x="626.10" y="180.70" font-size="6.6" text-anchor="middle" fill="#1a1a1a" stroke="#1a1a1a" stroke-width="0.231">***</text>
<circle cx="596.60" cy="252.70" r="1.75" fill="#1a1a1a"/>
<circle cx="588.50" cy="257.50" r="1.75" fill="#1a1a1a"/>
<circle cx="592.50" cy="257.50" r="1.75" fill="#1a1a1a"/>
<circle cx="596.60" cy="257.50" r="1.75" fill="#1a1a1a"/>
<circle cx="600.70" cy="257.50" r="1.75" fill="#1a1a1a"/>
<circle cx="604.80" cy="257.50" r="1.75" fill="#1a1a1a"/>
<circle cx="596.60" cy="261.00" r="1.75" fill="#1a1a1a"/>
<line x1="586.10" y1="256.50" x2="606.90" y2="256.50" stroke="#1a1a1a" stroke-width="1.4" stroke-linecap="butt"/>
<line x1="586.10" y1="259.50" x2="606.90" y2="259.50" stroke="#1a1a1a" stroke-width="1.4" stroke-linecap="butt"/>
<line x1="596.50" y1="256.00" x2="596.50" y2="259.00" stroke="#1a1a1a" stroke-width="1.4" stroke-linecap="butt"/>
<line x1="576.80" y1="257.50" x2="615.90" y2="257.50" stroke="#1a1a1a" stroke-width="1.1" stroke-linecap="butt"/>
<circle cx="654.60" cy="190.00" r="1.75" fill="#fc0c0c"/>
<circle cx="654.60" cy="195.60" r="1.75" fill="#fc0c0c"/>
<circle cx="654.60" cy="213.30" r="1.75" fill="#fc0c0c"/>
<circle cx="649.40" cy="231.10" r="1.75" fill="#fc0c0c"/>
<circle cx="654.60" cy="234.00" r="1.75" fill="#fc0c0c"/>
<circle cx="654.60" cy="240.00" r="1.75" fill="#fc0c0c"/>
<line x1="643.90" y1="208.50" x2="664.30" y2="208.50" stroke="#fc0c0c" stroke-width="1.4" stroke-linecap="butt"/>
<line x1="643.90" y1="226.50" x2="664.30" y2="226.50" stroke="#fc0c0c" stroke-width="1.4" stroke-linecap="butt"/>
<line x1="654.50" y1="208.90" x2="654.50" y2="226.00" stroke="#fc0c0c" stroke-width="1.4" stroke-linecap="butt"/>
<line x1="634.60" y1="217.50" x2="673.90" y2="217.50" stroke="#1a1a1a" stroke-width="1.1" stroke-linecap="butt"/>
<text x="0.00" y="337.60" font-size="16.3" font-weight="bold" text-anchor="start" fill="#1a1a1a" stroke="#1a1a1a" stroke-width="0.500">i</text>
<line x1="42.50" y1="346.70" x2="42.50" y2="425.10" stroke="#1a1a1a" stroke-width="1.2" stroke-linecap="butt"/>
<line x1="40.30" y1="347.50" x2="42.90" y2="347.50" stroke="#1a1a1a" stroke-width="1.0" stroke-linecap="butt"/>
<text x="0.00" y="0.00" font-size="6.6" text-anchor="end" fill="#1a1a1a" stroke="#1a1a1a" stroke-width="0.170" transform="translate(39.70 349.50) scale(0.818 1)">20</text>
<line x1="40.30" y1="366.50" x2="42.90" y2="366.50" stroke="#1a1a1a" stroke-width="1.0" stroke-linecap="butt"/>
<text x="0.00" y="0.00" font-size="6.6" text-anchor="end" fill="#1a1a1a" stroke="#1a1a1a" stroke-width="0.170" transform="translate(39.70 368.90) scale(0.818 1)">15</text>
<line x1="40.30" y1="386.50" x2="42.90" y2="386.50" stroke="#1a1a1a" stroke-width="1.0" stroke-linecap="butt"/>
<text x="0.00" y="0.00" font-size="6.6" text-anchor="end" fill="#1a1a1a" stroke="#1a1a1a" stroke-width="0.170" transform="translate(39.70 388.30) scale(0.818 1)">10</text>
<line x1="40.30" y1="405.50" x2="42.90" y2="405.50" stroke="#1a1a1a" stroke-width="1.0" stroke-linecap="butt"/>
<text x="0.00" y="0.00" font-size="6.6" text-anchor="end" fill="#1a1a1a" stroke="#1a1a1a" stroke-width="0.170" transform="translate(39.70 407.60) scale(0.818 1)">5</text>
<line x1="40.30" y1="424.50" x2="42.90" y2="424.50" stroke="#1a1a1a" stroke-width="1.0" stroke-linecap="butt"/>
<text x="0.00" y="0.00" font-size="6.6" text-anchor="end" fill="#1a1a1a" stroke="#1a1a1a" stroke-width="0.170" transform="translate(39.70 426.90) scale(0.818 1)">0</text>
<line x1="41.90" y1="424.50" x2="159.70" y2="424.50" stroke="#1a1a1a" stroke-width="1.2" stroke-linecap="butt"/>
<line x1="72.50" y1="424.60" x2="72.50" y2="427.00" stroke="#1a1a1a" stroke-width="1.0" stroke-linecap="butt"/>
<line x1="130.50" y1="424.60" x2="130.50" y2="427.00" stroke="#1a1a1a" stroke-width="1.0" stroke-linecap="butt"/>
<text x="74.10" y="434.60" font-size="6.0" text-anchor="end" fill="#1a1a1a" stroke="#1a1a1a" stroke-width="0.140" transform="rotate(-45 74.10 434.60)">4T1-cold</text>
<text x="132.60" y="434.60" font-size="6.0" text-anchor="end" fill="#1a1a1a" stroke="#1a1a1a" stroke-width="0.140" transform="rotate(-45 132.60 434.60)">4T1-hot</text>
<text x="22.80" y="385.90" font-size="6.3" font-weight="bold" text-anchor="middle" fill="#1a1a1a" transform="rotate(-90 22.80 385.90)" textLength="81" lengthAdjust="spacingAndGlyphs">IFN-γ<tspan baseline-shift="super" font-size="70%">+</tspan> (% of CD8α<tspan baseline-shift="super" font-size="70%">+</tspan> T-cells)</text>
<text x="31.30" y="385.90" font-size="6.3" font-weight="bold" text-anchor="middle" fill="#1a1a1a" transform="rotate(-90 31.30 385.90)">in primary tumor</text>
<path d="M72.50,387.80 L72.50,353.50 L130.50,353.50 L130.50,364.00" stroke="#1a1a1a" stroke-width="1.2" fill="none" stroke-linejoin="miter"/>
<text x="102.20" y="354.00" font-size="6.6" text-anchor="middle" fill="#1a1a1a" stroke="#1a1a1a" stroke-width="0.231">***</text>
<circle cx="72.20" cy="394.40" r="1.75" fill="#1a1a1a"/>
<circle cx="67.30" cy="409.60" r="1.75" fill="#1a1a1a"/>
<circle cx="72.20" cy="412.90" r="1.75" fill="#1a1a1a"/>
<circle cx="72.20" cy="421.80" r="1.75" fill="#1a1a1a"/>
<circle cx="76.70" cy="420.70" r="1.75" fill="#1a1a1a"/>
<line x1="62.20" y1="407.50" x2="82.20" y2="407.50" stroke="#1a1a1a" stroke-width="1.4" stroke-linecap="butt"/>
<line x1="62.20" y1="417.50" x2="82.20" y2="417.50" stroke="#1a1a1a" stroke-width="1.4" stroke-linecap="butt"/>
<line x1="72.50" y1="407.10" x2="72.50" y2="417.30" stroke="#1a1a1a" stroke-width="1.4" stroke-linecap="butt"/>
<line x1="52.40" y1="412.50" x2="91.80" y2="412.50" stroke="#1a1a1a" stroke-width="1.1" stroke-linecap="butt"/>
<circle cx="130.70" cy="368.40" r="1.75" fill="#fc0c0c"/>
<circle cx="125.10" cy="372.90" r="1.75" fill="#fc0c0c"/>
<circle cx="130.70" cy="374.40" r="1.75" fill="#fc0c0c"/>
<circle cx="130.70" cy="379.60" r="1.75" fill="#fc0c0c"/>
<circle cx="130.70" cy="385.60" r="1.75" fill="#fc0c0c"/>
<circle cx="130.70" cy="398.90" r="1.75" fill="#fc0c0c"/>
<line x1="120.00" y1="375.50" x2="140.70" y2="375.50" stroke="#fc0c0c" stroke-width="1.4" stroke-linecap="butt"/>
<line x1="120.00" y1="384.50" x2="140.70" y2="384.50" stroke="#fc0c0c" stroke-width="1.4" stroke-linecap="butt"/>
<line x1="130.50" y1="375.60" x2="130.50" y2="384.40" stroke="#fc0c0c" stroke-width="1.4" stroke-linecap="butt"/>
<line x1="110.90" y1="379.50" x2="150.40" y2="379.50" stroke="#1a1a1a" stroke-width="1.1" stroke-linecap="butt"/>
<text x="184.60" y="337.70" font-size="16.3" font-weight="bold" text-anchor="start" fill="#1a1a1a" stroke="#1a1a1a" stroke-width="0.500">j</text>
<line x1="222.50" y1="346.70" x2="222.50" y2="425.10" stroke="#1a1a1a" stroke-width="1.2" stroke-linecap="butt"/>
<line x1="219.80" y1="347.50" x2="222.40" y2="347.50" stroke="#1a1a1a" stroke-width="1.0" stroke-linecap="butt"/>
<text x="0.00" y="0.00" font-size="6.6" text-anchor="end" fill="#1a1a1a" stroke="#1a1a1a" stroke-width="0.170" transform="translate(219.20 349.50) scale(0.818 1)">50</text>
<line x1="219.80" y1="362.50" x2="222.40" y2="362.50" stroke="#1a1a1a" stroke-width="1.0" stroke-linecap="butt"/>
<text x="0.00" y="0.00" font-size="6.6" text-anchor="end" fill="#1a1a1a" stroke="#1a1a1a" stroke-width="0.170" transform="translate(219.20 365.00) scale(0.818 1)">40</text>
<line x1="219.80" y1="378.50" x2="222.40" y2="378.50" stroke="#1a1a1a" stroke-width="1.0" stroke-linecap="butt"/>
<text x="0.00" y="0.00" font-size="6.6" text-anchor="end" fill="#1a1a1a" stroke="#1a1a1a" stroke-width="0.170" transform="translate(219.20 380.50) scale(0.818 1)">30</text>
<line x1="219.80" y1="393.50" x2="222.40" y2="393.50" stroke="#1a1a1a" stroke-width="1.0" stroke-linecap="butt"/>
<text x="0.00" y="0.00" font-size="6.6" text-anchor="end" fill="#1a1a1a" stroke="#1a1a1a" stroke-width="0.170" transform="translate(219.20 395.90) scale(0.818 1)">20</text>
<line x1="219.80" y1="409.50" x2="222.40" y2="409.50" stroke="#1a1a1a" stroke-width="1.0" stroke-linecap="butt"/>
<text x="0.00" y="0.00" font-size="6.6" text-anchor="end" fill="#1a1a1a" stroke="#1a1a1a" stroke-width="0.170" transform="translate(219.20 411.40) scale(0.818 1)">10</text>
<line x1="219.80" y1="424.50" x2="222.40" y2="424.50" stroke="#1a1a1a" stroke-width="1.0" stroke-linecap="butt"/>
<text x="0.00" y="0.00" font-size="6.6" text-anchor="end" fill="#1a1a1a" stroke="#1a1a1a" stroke-width="0.170" transform="translate(219.20 426.90) scale(0.818 1)">0</text>
<line x1="221.40" y1="424.50" x2="339.00" y2="424.50" stroke="#1a1a1a" stroke-width="1.2" stroke-linecap="butt"/>
<line x1="251.50" y1="424.60" x2="251.50" y2="427.00" stroke="#1a1a1a" stroke-width="1.0" stroke-linecap="butt"/>
<line x1="310.50" y1="424.60" x2="310.50" y2="427.00" stroke="#1a1a1a" stroke-width="1.0" stroke-linecap="butt"/>
<text x="253.70" y="434.60" font-size="6.0" text-anchor="end" fill="#1a1a1a" stroke="#1a1a1a" stroke-width="0.140" transform="rotate(-45 253.70 434.60)">4T1-cold</text>
<text x="312.60" y="434.60" font-size="6.0" text-anchor="end" fill="#1a1a1a" stroke="#1a1a1a" stroke-width="0.140" transform="rotate(-45 312.60 434.60)">4T1-hot</text>
<text x="202.20" y="385.90" font-size="6.3" font-weight="bold" text-anchor="middle" fill="#1a1a1a" transform="rotate(-90 202.20 385.90)" textLength="79.5" lengthAdjust="spacingAndGlyphs">FoxP3<tspan baseline-shift="super" font-size="70%">+</tspan> (% of CD4<tspan baseline-shift="super" font-size="70%">+</tspan> T-cells)</text>
<text x="210.80" y="385.90" font-size="6.3" font-weight="bold" text-anchor="middle" fill="#1a1a1a" transform="rotate(-90 210.80 385.90)">in primary tumor</text>
<path d="M251.50,352.80 L251.50,347.50 L310.50,347.50 L310.50,406.40" stroke="#1a1a1a" stroke-width="1.2" fill="none" stroke-linejoin="miter"/>
<text x="282.20" y="348.60" font-size="6.6" text-anchor="middle" fill="#1a1a1a" stroke="#1a1a1a" stroke-width="0.231">***</text>
<circle cx="251.80" cy="356.60" r="1.75" fill="#1a1a1a"/>
<circle cx="251.80" cy="370.10" r="1.75" fill="#1a1a1a"/>
<circle cx="251.80" cy="382.80" r="1.75" fill="#1a1a1a"/>
<circle cx="251.80" cy="387.70" r="1.75" fill="#1a1a1a"/>
<circle cx="251.80" cy="393.20" r="1.75" fill="#1a1a1a"/>
<line x1="242.20" y1="371.50" x2="261.60" y2="371.50" stroke="#1a1a1a" stroke-width="1.4" stroke-linecap="butt"/>
<line x1="242.20" y1="384.50" x2="261.60" y2="384.50" stroke="#1a1a1a" stroke-width="1.4" stroke-linecap="butt"/>
<line x1="251.50" y1="371.20" x2="251.50" y2="384.60" stroke="#1a1a1a" stroke-width="1.4" stroke-linecap="butt"/>
<line x1="232.00" y1="378.50" x2="271.30" y2="378.50" stroke="#606060" stroke-width="1.1" stroke-linecap="butt"/>
<circle cx="305.30" cy="408.20" r="1.75" fill="#fc0c0c"/>
<circle cx="309.80" cy="410.40" r="1.75" fill="#fc0c0c"/>
<circle cx="305.30" cy="415.50" r="1.75" fill="#fc0c0c"/>
<circle cx="309.80" cy="416.20" r="1.75" fill="#fc0c0c"/>
<circle cx="314.60" cy="415.50" r="1.75" fill="#fc0c0c"/>
<circle cx="318.90" cy="412.20" r="1.75" fill="#fc0c0c"/>
<line x1="300.00" y1="411.50" x2="320.00" y2="411.50" stroke="#fc0c0c" stroke-width="1.4" stroke-linecap="butt"/>
<line x1="300.00" y1="414.50" x2="320.00" y2="414.50" stroke="#fc0c0c" stroke-width="1.4" stroke-linecap="butt"/>
<line x1="310.50" y1="411.90" x2="310.50" y2="414.60" stroke="#fc0c0c" stroke-width="1.4" stroke-linecap="butt"/>
<line x1="290.10" y1="413.50" x2="329.50" y2="413.50" stroke="#606060" stroke-width="1.1" stroke-linecap="butt"/>
<text x="369.00" y="337.70" font-size="16.3" font-weight="bold" text-anchor="start" fill="#1a1a1a" stroke="#1a1a1a" stroke-width="0.500">k</text>
<line x1="401.50" y1="346.40" x2="401.50" y2="424.50" stroke="#1a1a1a" stroke-width="1.2" stroke-linecap="butt"/>
<line x1="398.70" y1="346.50" x2="401.30" y2="346.50" stroke="#1a1a1a" stroke-width="1.0" stroke-linecap="butt"/>
<text x="0.00" y="0.00" font-size="6.6" text-anchor="end" fill="#1a1a1a" stroke="#1a1a1a" stroke-width="0.170" transform="translate(398.10 349.20) scale(0.848 1)">800</text>
<line x1="398.70" y1="366.50" x2="401.30" y2="366.50" stroke="#1a1a1a" stroke-width="1.0" stroke-linecap="butt"/>
<text x="0.00" y="0.00" font-size="6.6" text-anchor="end" fill="#1a1a1a" stroke="#1a1a1a" stroke-width="0.170" transform="translate(398.10 368.50) scale(0.848 1)">600</text>
<line x1="398.70" y1="385.50" x2="401.30" y2="385.50" stroke="#1a1a1a" stroke-width="1.0" stroke-linecap="butt"/>
<text x="0.00" y="0.00" font-size="6.6" text-anchor="end" fill="#1a1a1a" stroke="#1a1a1a" stroke-width="0.170" transform="translate(398.10 387.80) scale(0.848 1)">400</text>
<line x1="398.70" y1="404.50" x2="401.30" y2="404.50" stroke="#1a1a1a" stroke-width="1.0" stroke-linecap="butt"/>
<text x="0.00" y="0.00" font-size="6.6" text-anchor="end" fill="#1a1a1a" stroke="#1a1a1a" stroke-width="0.170" transform="translate(398.10 407.00) scale(0.848 1)">200</text>
<line x1="398.70" y1="424.50" x2="401.30" y2="424.50" stroke="#1a1a1a" stroke-width="1.0" stroke-linecap="butt"/>
<text x="0.00" y="0.00" font-size="6.6" text-anchor="end" fill="#1a1a1a" stroke="#1a1a1a" stroke-width="0.170" transform="translate(398.10 426.30) scale(0.848 1)">0</text>
<line x1="400.30" y1="424.50" x2="516.90" y2="424.50" stroke="#1a1a1a" stroke-width="1.2" stroke-linecap="butt"/>
<line x1="401.50" y1="424.00" x2="401.50" y2="426.40" stroke="#1a1a1a" stroke-width="1.0" stroke-linecap="butt"/>
<text x="0.00" y="0.00" font-size="6.6" text-anchor="middle" fill="#1a1a1a" stroke="#1a1a1a" stroke-width="0.170" transform="translate(401.30 432.30) scale(0.85 1)">0</text>
<line x1="428.50" y1="424.00" x2="428.50" y2="426.40" stroke="#1a1a1a" stroke-width="1.0" stroke-linecap="butt"/>
<text x="0.00" y="0.00" font-size="6.6" text-anchor="middle" fill="#1a1a1a" stroke="#1a1a1a" stroke-width="0.170" transform="translate(428.77 432.30) scale(0.85 1)">1</text>
<line x1="456.50" y1="424.00" x2="456.50" y2="426.40" stroke="#1a1a1a" stroke-width="1.0" stroke-linecap="butt"/>
<text x="0.00" y="0.00" font-size="6.6" text-anchor="middle" fill="#1a1a1a" stroke="#1a1a1a" stroke-width="0.170" transform="translate(456.24 432.30) scale(0.85 1)">2</text>
<line x1="483.50" y1="424.00" x2="483.50" y2="426.40" stroke="#1a1a1a" stroke-width="1.0" stroke-linecap="butt"/>
<text x="0.00" y="0.00" font-size="6.6" text-anchor="middle" fill="#1a1a1a" stroke="#1a1a1a" stroke-width="0.170" transform="translate(483.71 432.30) scale(0.85 1)">3</text>
<line x1="511.50" y1="424.00" x2="511.50" y2="426.40" stroke="#1a1a1a" stroke-width="1.0" stroke-linecap="butt"/>
<text x="0.00" y="0.00" font-size="6.6" text-anchor="middle" fill="#1a1a1a" stroke="#1a1a1a" stroke-width="0.170" transform="translate(511.18 432.30) scale(0.85 1)">4</text>
<text x="458.20" y="440.80" font-size="6.5" font-weight="bold" text-anchor="middle" fill="#1a1a1a" textLength="87.0" lengthAdjust="spacingAndGlyphs">Time post-inoculation (weeks)</text>
<text x="386.30" y="385.50" font-size="6.1" font-weight="bold" text-anchor="middle" fill="#1a1a1a" transform="rotate(-90 386.30 385.50)">4T1-cold tumor volume (mm<tspan baseline-shift="super" font-size="70%">3</tspan>)</text>
<polyline points="401.30,424.00 428.77,423.00 456.24,420.50 483.71,412.00 511.18,366.30" fill="none" stroke="#1a1a1a" stroke-width="1.15" stroke-linejoin="round"/>
<polyline points="401.30,424.00 428.77,423.10 456.24,421.00 483.71,413.00 511.18,368.70" fill="none" stroke="#1a1a1a" stroke-width="1.15" stroke-linejoin="round"/>
<polyline points="401.30,424.00 428.77,423.20 456.24,421.50 483.71,414.00 511.18,371.00" fill="none" stroke="#1a1a1a" stroke-width="1.15" stroke-linejoin="round"/>
<polyline points="401.30,424.00 428.77,423.30 456.24,422.00 483.71,415.00 511.18,374.90" fill="none" stroke="#1a1a1a" stroke-width="1.15" stroke-linejoin="round"/>
<polyline points="401.30,424.00 428.77,423.40 456.24,422.30 483.71,416.20 511.18,378.00" fill="none" stroke="#1a1a1a" stroke-width="1.15" stroke-linejoin="round"/>
<polyline points="401.30,424.00 428.77,423.50 456.24,422.60 483.71,417.00 511.18,383.90" fill="none" stroke="#1a1a1a" stroke-width="1.15" stroke-linejoin="round"/>
<polyline points="401.30,424.00 428.77,422.30 456.24,418.50 483.71,407.50 511.18,354.40" fill="none" stroke="#fc0c0c" stroke-width="1.15" stroke-linejoin="round"/>
<polyline points="401.30,424.00 428.77,422.42 456.24,419.00 483.71,408.50 511.18,374.10" fill="none" stroke="#fc0c0c" stroke-width="1.15" stroke-linejoin="round"/>
<polyline points="401.30,424.00 428.77,422.54 456.24,419.50 483.71,409.50 511.18,376.70" fill="none" stroke="#fc0c0c" stroke-width="1.15" stroke-linejoin="round"/>
<polyline points="401.30,424.00 428.77,422.66 456.24,420.00 483.71,410.50 511.18,380.30" fill="none" stroke="#fc0c0c" stroke-width="1.15" stroke-linejoin="round"/>
<polyline points="401.30,424.00 428.77,422.78 456.24,420.50 483.71,411.50 511.18,387.30" fill="none" stroke="#fc0c0c" stroke-width="1.15" stroke-linejoin="round"/>
<polyline points="401.30,424.00 428.77,422.90 456.24,421.00 483.71,412.50 511.18,385.00" fill="none" stroke="#fc0c0c" stroke-width="1.15" stroke-linejoin="round"/>
<polyline points="401.30,424.00 428.77,423.02 456.24,421.50 483.71,413.50 511.18,383.00" fill="none" stroke="#fc0c0c" stroke-width="1.15" stroke-linejoin="round"/>
<polyline points="401.30,424.00 428.77,423.14 456.24,422.00 483.71,414.50 511.18,378.50" fill="none" stroke="#fc0c0c" stroke-width="1.15" stroke-linejoin="round"/>
<polyline points="401.30,424.00 428.77,423.26 456.24,422.50 483.71,415.50 511.18,372.00" fill="none" stroke="#fc0c0c" stroke-width="1.15" stroke-linejoin="round"/>
<polyline points="487.71,406.55 511.18,368.70" fill="none" stroke="#1a1a1a" stroke-width="1.15" stroke-linejoin="round"/>
<polyline points="487.71,409.16 511.18,374.90" fill="none" stroke="#1a1a1a" stroke-width="1.15" stroke-linejoin="round"/>
<polyline points="487.71,412.18 511.18,383.90" fill="none" stroke="#1a1a1a" stroke-width="1.15" stroke-linejoin="round"/>
<line x1="456.50" y1="401.80" x2="456.50" y2="407.30" stroke="#1a1a1a" stroke-width="1.3" stroke-linecap="butt"/>
<path d="M454.20,407.00 L458.40,407.00 L456.30,410.60 Z" fill="#1a1a1a"/>
<line x1="483.50" y1="392.40" x2="483.50" y2="398.30" stroke="#1a1a1a" stroke-width="1.3" stroke-linecap="butt"/>
<path d="M481.50,398.00 L485.70,398.00 L483.60,401.60 Z" fill="#1a1a1a"/>
<line x1="406.90" y1="361.50" x2="416.00" y2="361.50" stroke="#3a3a3a" stroke-width="1.0" stroke-linecap="butt"/>
<text x="420.10" y="363.60" font-size="6.3" text-anchor="start" fill="#1a1a1a" stroke="#1a1a1a" stroke-width="0.100">IgG control</text>
<line x1="406.90" y1="370.50" x2="416.00" y2="370.50" stroke="#fc0c0c" stroke-width="1.0" stroke-linecap="butt"/>
<text x="420.10" y="372.60" font-size="6.3" text-anchor="start" fill="#1a1a1a" stroke="#1a1a1a" stroke-width="0.100">anti-PD-L1</text>
<line x1="455.50" y1="302.00" x2="455.50" y2="348.00" stroke="#c4c4c4" stroke-width="1.0" stroke-linecap="butt"/>
<line x1="454.40" y1="302.50" x2="455.80" y2="302.50" stroke="#666" stroke-width="0.7" stroke-linecap="butt"/>
<text x="453.90" y="303.60" font-size="3.6" text-anchor="end" fill="#383838" stroke="#383838" stroke-width="0.090">600</text>
<line x1="454.40" y1="317.50" x2="455.80" y2="317.50" stroke="#666" stroke-width="0.7" stroke-linecap="butt"/>
<text x="453.90" y="318.67" font-size="3.6" text-anchor="end" fill="#383838" stroke="#383838" stroke-width="0.090">400</text>
<line x1="454.40" y1="332.50" x2="455.80" y2="332.50" stroke="#666" stroke-width="0.7" stroke-linecap="butt"/>
<text x="453.90" y="333.73" font-size="3.6" text-anchor="end" fill="#383838" stroke="#383838" stroke-width="0.090">200</text>
<line x1="454.40" y1="347.50" x2="455.80" y2="347.50" stroke="#666" stroke-width="0.7" stroke-linecap="butt"/>
<text x="453.90" y="348.80" font-size="3.6" text-anchor="end" fill="#383838" stroke="#383838" stroke-width="0.090">0</text>
<line x1="455.30" y1="347.50" x2="523.80" y2="347.50" stroke="#8a8a8a" stroke-width="1.0" stroke-linecap="butt"/>
<line x1="455.50" y1="347.50" x2="455.50" y2="348.70" stroke="#666" stroke-width="0.6" stroke-linecap="butt"/>
<text x="455.90" y="352.50" font-size="3.6" text-anchor="middle" fill="#383838" stroke="#383838" stroke-width="0.090">0</text>
<line x1="472.50" y1="347.50" x2="472.50" y2="348.70" stroke="#666" stroke-width="0.6" stroke-linecap="butt"/>
<text x="472.15" y="352.50" font-size="3.6" text-anchor="middle" fill="#383838" stroke="#383838" stroke-width="0.090">1</text>
<line x1="488.50" y1="347.50" x2="488.50" y2="348.70" stroke="#666" stroke-width="0.6" stroke-linecap="butt"/>
<text x="488.40" y="352.50" font-size="3.6" text-anchor="middle" fill="#383838" stroke="#383838" stroke-width="0.090">2</text>
<line x1="504.50" y1="347.50" x2="504.50" y2="348.70" stroke="#666" stroke-width="0.6" stroke-linecap="butt"/>
<text x="504.65" y="352.50" font-size="3.6" text-anchor="middle" fill="#383838" stroke="#383838" stroke-width="0.090">3</text>
<line x1="520.50" y1="347.50" x2="520.50" y2="348.70" stroke="#666" stroke-width="0.6" stroke-linecap="butt"/>
<text x="520.90" y="352.50" font-size="3.6" text-anchor="middle" fill="#383838" stroke="#383838" stroke-width="0.090">4</text>
<text x="446.80" y="325.00" font-size="3.6" text-anchor="middle" fill="#383838" stroke="#383838" stroke-width="0.090" transform="rotate(-90 446.80 325.00)">4T1-cold tumor volume (mm<tspan baseline-shift="super" font-size="70%">3</tspan>)</text>
<polyline points="455.90,347.50 472.15,347.00 488.40,345.20 504.65,339.30 520.90,311.50" fill="none" stroke="#1a1a1a" stroke-width="0.8" stroke-linejoin="round"/>
<polyline points="455.90,347.50 472.15,346.80 488.40,344.80 504.65,338.20 520.90,309.80" fill="none" stroke="#fc0c0c" stroke-width="0.8" stroke-linejoin="round"/>
<circle cx="455.90" cy="347.50" r="0.9" fill="#1a1a1a"/>
<circle cx="472.15" cy="347.00" r="0.9" fill="#1a1a1a"/>
<circle cx="488.40" cy="345.20" r="0.9" fill="#1a1a1a"/>
<circle cx="504.65" cy="339.30" r="0.9" fill="#1a1a1a"/>
<circle cx="520.90" cy="311.50" r="0.9" fill="#1a1a1a"/>
<circle cx="455.90" cy="347.50" r="0.9" fill="#fc0c0c"/>
<circle cx="472.15" cy="346.80" r="0.9" fill="#fc0c0c"/>
<circle cx="488.40" cy="344.80" r="0.9" fill="#fc0c0c"/>
<circle cx="504.65" cy="338.20" r="0.9" fill="#fc0c0c"/>
<circle cx="520.90" cy="309.80" r="0.9" fill="#fc0c0c"/>
<line x1="520.50" y1="306.20" x2="520.50" y2="313.80" stroke="#fc0c0c" stroke-width="0.8" stroke-linecap="butt"/>
<line x1="520.00" y1="306.50" x2="521.80" y2="306.50" stroke="#fc0c0c" stroke-width="0.8" stroke-linecap="butt"/>
<line x1="520.00" y1="313.50" x2="521.80" y2="313.50" stroke="#fc0c0c" stroke-width="0.8" stroke-linecap="butt"/>
<line x1="488.50" y1="334.60" x2="488.50" y2="337.50" stroke="#1a1a1a" stroke-width="0.8" stroke-linecap="butt"/>
<path d="M487.20,337.20 L489.60,337.20 L488.40,339.20 Z" fill="#1a1a1a"/>
<line x1="504.50" y1="330.00" x2="504.50" y2="332.60" stroke="#1a1a1a" stroke-width="0.8" stroke-linecap="butt"/>
<path d="M503.40,332.30 L505.80,332.30 L504.60,334.30 Z" fill="#1a1a1a"/>
<text x="539.40" y="337.60" font-size="16.3" font-weight="bold" text-anchor="start" fill="#1a1a1a" stroke="#1a1a1a" stroke-width="0.500">l</text>
<line x1="556.50" y1="347.20" x2="556.50" y2="424.90" stroke="#1a1a1a" stroke-width="1.2" stroke-linecap="butt"/>
<line x1="553.70" y1="347.50" x2="556.30" y2="347.50" stroke="#1a1a1a" stroke-width="1.0" stroke-linecap="butt"/>
<text x="0.00" y="0.00" font-size="6.6" text-anchor="end" fill="#1a1a1a" stroke="#1a1a1a" stroke-width="0.170" transform="translate(553.10 350.00) scale(0.848 1)">300</text>
<line x1="553.70" y1="373.50" x2="556.30" y2="373.50" stroke="#1a1a1a" stroke-width="1.0" stroke-linecap="butt"/>
<text x="0.00" y="0.00" font-size="6.6" text-anchor="end" fill="#1a1a1a" stroke="#1a1a1a" stroke-width="0.170" transform="translate(553.10 375.60) scale(0.848 1)">200</text>
<line x1="553.70" y1="398.50" x2="556.30" y2="398.50" stroke="#1a1a1a" stroke-width="1.0" stroke-linecap="butt"/>
<text x="0.00" y="0.00" font-size="6.6" text-anchor="end" fill="#1a1a1a" stroke="#1a1a1a" stroke-width="0.170" transform="translate(553.10 401.20) scale(0.848 1)">100</text>
<line x1="553.70" y1="424.50" x2="556.30" y2="424.50" stroke="#1a1a1a" stroke-width="1.0" stroke-linecap="butt"/>
<text x="0.00" y="0.00" font-size="6.6" text-anchor="end" fill="#1a1a1a" stroke="#1a1a1a" stroke-width="0.170" transform="translate(553.10 426.70) scale(0.848 1)">0</text>
<line x1="555.30" y1="424.50" x2="671.00" y2="424.50" stroke="#1a1a1a" stroke-width="1.2" stroke-linecap="butt"/>
<line x1="556.50" y1="424.40" x2="556.50" y2="426.80" stroke="#1a1a1a" stroke-width="1.0" stroke-linecap="butt"/>
<text x="0.00" y="0.00" font-size="6.6" text-anchor="middle" fill="#1a1a1a" stroke="#1a1a1a" stroke-width="0.170" transform="translate(556.30 432.70) scale(0.85 1)">0</text>
<line x1="583.50" y1="424.40" x2="583.50" y2="426.80" stroke="#1a1a1a" stroke-width="1.0" stroke-linecap="butt"/>
<text x="0.00" y="0.00" font-size="6.6" text-anchor="middle" fill="#1a1a1a" stroke="#1a1a1a" stroke-width="0.170" transform="translate(583.80 432.70) scale(0.85 1)">1</text>
<line x1="611.50" y1="424.40" x2="611.50" y2="426.80" stroke="#1a1a1a" stroke-width="1.0" stroke-linecap="butt"/>
<text x="0.00" y="0.00" font-size="6.6" text-anchor="middle" fill="#1a1a1a" stroke="#1a1a1a" stroke-width="0.170" transform="translate(611.30 432.70) scale(0.85 1)">2</text>
<line x1="638.50" y1="424.40" x2="638.50" y2="426.80" stroke="#1a1a1a" stroke-width="1.0" stroke-linecap="butt"/>
<text x="0.00" y="0.00" font-size="6.6" text-anchor="middle" fill="#1a1a1a" stroke="#1a1a1a" stroke-width="0.170" transform="translate(638.80 432.70) scale(0.85 1)">3</text>
<line x1="666.50" y1="424.40" x2="666.50" y2="426.80" stroke="#1a1a1a" stroke-width="1.0" stroke-linecap="butt"/>
<text x="0.00" y="0.00" font-size="6.6" text-anchor="middle" fill="#1a1a1a" stroke="#1a1a1a" stroke-width="0.170" transform="translate(666.30 432.70) scale(0.85 1)">4</text>
<text x="613.20" y="441.20" font-size="6.5" font-weight="bold" text-anchor="middle" fill="#1a1a1a" textLength="87.0" lengthAdjust="spacingAndGlyphs">Time post-inoculation (weeks)</text>
<text x="541.60" y="386.00" font-size="6.1" font-weight="bold" text-anchor="middle" fill="#1a1a1a" transform="rotate(-90 541.60 386.00)">4T1-hot tumor volume (mm<tspan baseline-shift="super" font-size="70%">3</tspan>)</text>
<polyline points="556.30,424.40 583.80,422.30 611.30,418.50 638.80,406.50 666.30,386.60" fill="none" stroke="#1a1a1a" stroke-width="1.0" stroke-linejoin="round"/>
<polyline points="556.30,424.40 583.80,422.50 611.30,419.00 638.80,408.00 666.30,388.50" fill="none" stroke="#1a1a1a" stroke-width="1.0" stroke-linejoin="round"/>
<polyline points="556.30,424.40 583.80,422.70 611.30,419.50 638.80,409.00 666.30,390.50" fill="none" stroke="#1a1a1a" stroke-width="1.0" stroke-linejoin="round"/>
<polyline points="556.30,424.40 583.80,422.80 611.30,420.00 638.80,410.50 666.30,392.50" fill="none" stroke="#1a1a1a" stroke-width="1.0" stroke-linejoin="round"/>
<polyline points="556.30,424.40 583.80,423.00 611.30,420.50 638.80,411.50 666.30,394.50" fill="none" stroke="#1a1a1a" stroke-width="1.0" stroke-linejoin="round"/>
<polyline points="556.30,424.40 583.80,423.00 611.30,420.50 638.80,412.50 666.30,396.50" fill="none" stroke="#1a1a1a" stroke-width="1.0" stroke-linejoin="round"/>
<polyline points="556.30,424.40 583.80,423.20 611.30,421.00 638.80,413.50 666.30,398.50" fill="none" stroke="#1a1a1a" stroke-width="1.0" stroke-linejoin="round"/>
<polyline points="556.30,424.40 583.80,423.20 611.30,421.00 638.80,414.50 666.30,400.50" fill="none" stroke="#1a1a1a" stroke-width="1.0" stroke-linejoin="round"/>
<polyline points="556.30,424.40 583.80,423.00 611.30,418.50 638.80,416.90 666.30,416.90" fill="none" stroke="#1a1a1a" stroke-width="1.0" stroke-linejoin="round"/>
<polyline points="556.30,424.40 583.80,421.00 611.30,415.50 638.80,397.90 666.30,352.60" fill="none" stroke="#fc0c0c" stroke-width="1.0" stroke-linejoin="round"/>
<polyline points="556.30,424.40 583.80,421.80 611.30,417.50 638.80,407.00 666.30,389.50" fill="none" stroke="#fc0c0c" stroke-width="1.0" stroke-linejoin="round"/>
<polyline points="556.30,424.40 583.80,422.00 611.30,418.20 638.80,408.50 666.30,392.00" fill="none" stroke="#fc0c0c" stroke-width="1.0" stroke-linejoin="round"/>
<polyline points="556.30,424.40 583.80,422.20 611.30,418.80 638.80,410.00 666.30,395.00" fill="none" stroke="#fc0c0c" stroke-width="1.0" stroke-linejoin="round"/>
<polyline points="556.30,424.40 583.80,422.40 611.30,419.40 638.80,411.00 666.30,397.50" fill="none" stroke="#fc0c0c" stroke-width="1.0" stroke-linejoin="round"/>
<polyline points="556.30,424.40 583.80,422.60 611.30,420.00 638.80,412.50 666.30,400.00" fill="none" stroke="#fc0c0c" stroke-width="1.0" stroke-linejoin="round"/>
<polyline points="556.30,424.40 583.80,422.70 611.30,420.50 638.80,413.50 666.30,403.00" fill="none" stroke="#fc0c0c" stroke-width="1.0" stroke-linejoin="round"/>
<polyline points="556.30,424.40 583.80,422.80 611.30,420.80 638.80,415.00 666.30,411.50" fill="none" stroke="#fc0c0c" stroke-width="1.0" stroke-linejoin="round"/>
<polyline points="556.30,424.40 583.80,423.00 611.30,421.30 638.80,420.50 666.30,419.10" fill="none" stroke="#fc0c0c" stroke-width="1.0" stroke-linejoin="round"/>
<polyline points="556.30,424.40 583.80,423.20 611.30,421.60 638.80,421.00 666.30,420.60" fill="none" stroke="#fc0c0c" stroke-width="1.0" stroke-linejoin="round"/>
<polyline points="556.30,424.40 583.80,423.40 611.30,422.00 638.80,421.30 666.30,421.60" fill="none" stroke="#fc0c0c" stroke-width="1.0" stroke-linejoin="round"/>
<polyline points="611.30,418.50 638.80,406.50 666.30,386.60" fill="none" stroke="#1a1a1a" stroke-width="1.0" stroke-linejoin="round"/>
<polyline points="611.30,419.50 638.80,409.00 666.30,390.50" fill="none" stroke="#1a1a1a" stroke-width="1.0" stroke-linejoin="round"/>
<polyline points="611.30,420.50 638.80,411.50 666.30,394.50" fill="none" stroke="#1a1a1a" stroke-width="1.0" stroke-linejoin="round"/>
<polyline points="611.30,421.00 638.80,413.50 666.30,398.50" fill="none" stroke="#1a1a1a" stroke-width="1.0" stroke-linejoin="round"/>
<polyline points="611.30,418.50 638.80,416.90 666.30,416.90" fill="none" stroke="#1a1a1a" stroke-width="1.0" stroke-linejoin="round"/>
<line x1="611.50" y1="397.80" x2="611.50" y2="403.90" stroke="#1a1a1a" stroke-width="1.3" stroke-linecap="butt"/>
<path d="M609.70,403.60 L613.90,403.60 L611.80,407.20 Z" fill="#1a1a1a"/>
<line x1="639.50" y1="382.80" x2="639.50" y2="388.50" stroke="#1a1a1a" stroke-width="1.3" stroke-linecap="butt"/>
<path d="M636.90,388.20 L641.10,388.20 L639.00,391.80 Z" fill="#1a1a1a"/>
<line x1="562.20" y1="361.50" x2="571.20" y2="361.50" stroke="#3a3a3a" stroke-width="1.0" stroke-linecap="butt"/>
<text x="575.50" y="364.00" font-size="6.3" text-anchor="start" fill="#1a1a1a" stroke="#1a1a1a" stroke-width="0.100">IgG control</text>
<line x1="562.20" y1="370.50" x2="571.20" y2="370.50" stroke="#fc0c0c" stroke-width="1.0" stroke-linecap="butt"/>
<text x="575.50" y="372.90" font-size="6.3" text-anchor="start" fill="#1a1a1a" stroke="#1a1a1a" stroke-width="0.100">anti-PD-L1</text>
<line x1="610.50" y1="302.30" x2="610.50" y2="348.30" stroke="#c4c4c4" stroke-width="1.0" stroke-linecap="butt"/>
<line x1="609.20" y1="302.50" x2="610.60" y2="302.50" stroke="#666" stroke-width="0.7" stroke-linecap="butt"/>
<text x="608.70" y="304.00" font-size="3.6" text-anchor="end" fill="#383838" stroke="#383838" stroke-width="0.090">150</text>
<line x1="609.20" y1="317.50" x2="610.60" y2="317.50" stroke="#666" stroke-width="0.7" stroke-linecap="butt"/>
<text x="608.70" y="319.03" font-size="3.6" text-anchor="end" fill="#383838" stroke="#383838" stroke-width="0.090">100</text>
<line x1="609.20" y1="332.50" x2="610.60" y2="332.50" stroke="#666" stroke-width="0.7" stroke-linecap="butt"/>
<text x="608.70" y="334.07" font-size="3.6" text-anchor="end" fill="#383838" stroke="#383838" stroke-width="0.090">50</text>
<line x1="609.20" y1="347.50" x2="610.60" y2="347.50" stroke="#666" stroke-width="0.7" stroke-linecap="butt"/>
<text x="608.70" y="349.10" font-size="3.6" text-anchor="end" fill="#383838" stroke="#383838" stroke-width="0.090">0</text>
<line x1="610.00" y1="347.50" x2="678.50" y2="347.50" stroke="#8a8a8a" stroke-width="1.0" stroke-linecap="butt"/>
<line x1="610.50" y1="347.80" x2="610.50" y2="349.00" stroke="#666" stroke-width="0.6" stroke-linecap="butt"/>
<text x="610.60" y="352.80" font-size="3.6" text-anchor="middle" fill="#383838" stroke="#383838" stroke-width="0.090">0</text>
<line x1="626.50" y1="347.80" x2="626.50" y2="349.00" stroke="#666" stroke-width="0.6" stroke-linecap="butt"/>
<text x="626.90" y="352.80" font-size="3.6" text-anchor="middle" fill="#383838" stroke="#383838" stroke-width="0.090">1</text>
<line x1="643.50" y1="347.80" x2="643.50" y2="349.00" stroke="#666" stroke-width="0.6" stroke-linecap="butt"/>
<text x="643.20" y="352.80" font-size="3.6" text-anchor="middle" fill="#383838" stroke="#383838" stroke-width="0.090">2</text>
<line x1="659.50" y1="347.80" x2="659.50" y2="349.00" stroke="#666" stroke-width="0.6" stroke-linecap="butt"/>
<text x="659.50" y="352.80" font-size="3.6" text-anchor="middle" fill="#383838" stroke="#383838" stroke-width="0.090">3</text>
<line x1="675.50" y1="347.80" x2="675.50" y2="349.00" stroke="#666" stroke-width="0.6" stroke-linecap="butt"/>
<text x="675.80" y="352.80" font-size="3.6" text-anchor="middle" fill="#383838" stroke="#383838" stroke-width="0.090">4</text>
<text x="600.60" y="325.00" font-size="3.6" text-anchor="middle" fill="#383838" stroke="#383838" stroke-width="0.090" transform="rotate(-90 600.60 325.00)">4T1-hot tumor volume (mm<tspan baseline-shift="super" font-size="70%">3</tspan>)</text>
<polyline points="610.60,347.80 626.90,346.00 643.20,341.20 659.50,333.40 675.80,313.30" fill="none" stroke="#1a1a1a" stroke-width="0.8" stroke-linejoin="round"/>
<polyline points="610.60,347.80 626.90,345.90 643.20,341.60 659.50,335.00 675.80,320.60" fill="none" stroke="#fc0c0c" stroke-width="0.8" stroke-linejoin="round"/>
<circle cx="610.60" cy="347.80" r="0.9" fill="#1a1a1a"/>
<circle cx="626.90" cy="346.00" r="0.9" fill="#1a1a1a"/>
<circle cx="643.20" cy="341.20" r="0.9" fill="#1a1a1a"/>
<circle cx="659.50" cy="333.40" r="0.9" fill="#1a1a1a"/>
<circle cx="675.80" cy="313.30" r="0.9" fill="#1a1a1a"/>
<circle cx="610.60" cy="347.80" r="0.9" fill="#fc0c0c"/>
<circle cx="626.90" cy="345.90" r="0.9" fill="#fc0c0c"/>
<circle cx="643.20" cy="341.60" r="0.9" fill="#fc0c0c"/>
<circle cx="659.50" cy="335.00" r="0.9" fill="#fc0c0c"/>
<circle cx="675.80" cy="320.60" r="0.9" fill="#fc0c0c"/>
<line x1="675.50" y1="308.60" x2="675.50" y2="317.00" stroke="#1a1a1a" stroke-width="0.8" stroke-linecap="butt"/>
<line x1="674.90" y1="308.50" x2="676.70" y2="308.50" stroke="#1a1a1a" stroke-width="0.8" stroke-linecap="butt"/>
<line x1="675.50" y1="313.00" x2="675.50" y2="328.00" stroke="#fc0c0c" stroke-width="0.8" stroke-linecap="butt"/>
<line x1="674.90" y1="328.50" x2="676.70" y2="328.50" stroke="#fc0c0c" stroke-width="0.8" stroke-linecap="butt"/>
<line x1="643.50" y1="333.80" x2="643.50" y2="336.10" stroke="#1a1a1a" stroke-width="0.8" stroke-linecap="butt"/>
<path d="M642.20,335.80 L644.60,335.80 L643.40,337.80 Z" fill="#1a1a1a"/>
<line x1="659.50" y1="323.80" x2="659.50" y2="326.70" stroke="#1a1a1a" stroke-width="0.8" stroke-linecap="butt"/>
<path d="M658.40,326.40 L660.80,326.40 L659.60,328.40 Z" fill="#1a1a1a"/>
</svg>
</body></html>
